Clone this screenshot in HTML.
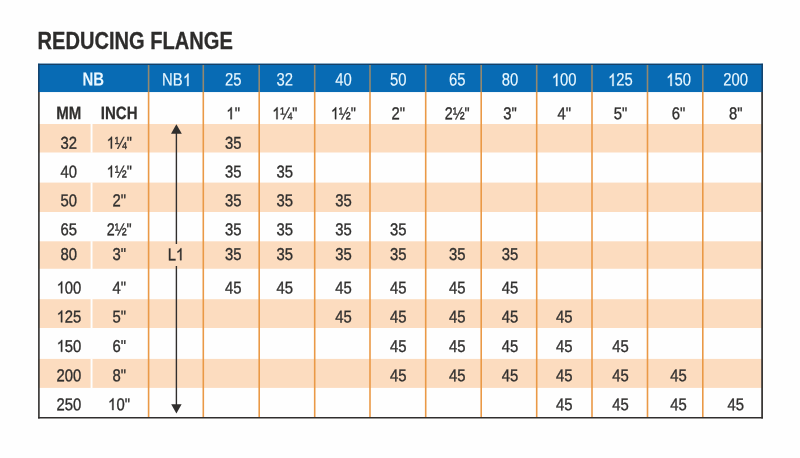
<!DOCTYPE html>
<html><head><meta charset="utf-8"><title>Reducing Flange</title>
<style>
html,body{margin:0;padding:0;background:#fefefe;}
body{width:800px;height:458px;overflow:hidden;position:relative;font-family:"Liberation Sans",sans-serif;}
#wrap{position:absolute;left:0;top:0;width:800px;height:458px;filter:blur(0.45px);}
.a{position:absolute;}
.o{width:0.5562em;height:0.69em;vertical-align:baseline;overflow:visible;fill:currentColor;stroke:currentColor;stroke-width:45;}
.t{position:absolute;width:120px;line-height:20px;text-align:center;white-space:nowrap;transform-origin:50% 50%;color:#302f2e;-webkit-text-stroke:0.35px currentColor;}
</style></head><body><div id="wrap">
<svg class="a" style="left:0;top:0" width="800" height="458" viewBox="0 0 800 458">
<defs><path id="g1" d="M763 0L583 0L583 -1147Q518 -1085 412.5 -1023Q307 -961 223 -930L223 -1104Q374 -1175 487 -1276Q600 -1377 647 -1472L763 -1472Z"/></defs>
<rect x="38.1" y="63.7" width="724.8" height="28.35" fill="#086bb4"/>
<rect x="38.5" y="124.0" width="724" height="28.50" fill="#fcdcbf"/>
<rect x="38.5" y="182.6" width="724" height="29.40" fill="#fcdcbf"/>
<rect x="38.5" y="241.3" width="724" height="27.45" fill="#fcdcbf"/>
<rect x="38.5" y="299.2" width="724" height="28.80" fill="#fcdcbf"/>
<rect x="38.5" y="358.9" width="724" height="29.00" fill="#fcdcbf"/>
<rect x="90.6" y="123.8" width="1.9" height="28.90" fill="#fefefe"/>
<rect x="90.6" y="182.4" width="1.9" height="29.80" fill="#fefefe"/>
<rect x="90.6" y="241.10000000000002" width="1.9" height="27.85" fill="#fefefe"/>
<rect x="90.6" y="299.0" width="1.9" height="29.20" fill="#fefefe"/>
<rect x="90.6" y="358.7" width="1.9" height="29.40" fill="#fefefe"/>
<line x1="148.6" y1="92" x2="148.6" y2="417.5" stroke="#ea9946" stroke-width="1.6"/>
<line x1="148.6" y1="64" x2="148.6" y2="92.1" stroke="#94886e" stroke-width="1.6"/>
<line x1="203.3" y1="92" x2="203.3" y2="417.5" stroke="#ea9946" stroke-width="1.6"/>
<line x1="203.3" y1="64" x2="203.3" y2="92.1" stroke="#94886e" stroke-width="1.6"/>
<line x1="259.2" y1="92" x2="259.2" y2="417.5" stroke="#ea9946" stroke-width="1.6"/>
<line x1="259.2" y1="64" x2="259.2" y2="92.1" stroke="#94886e" stroke-width="1.6"/>
<line x1="314.7" y1="92" x2="314.7" y2="417.5" stroke="#ea9946" stroke-width="1.6"/>
<line x1="314.7" y1="64" x2="314.7" y2="92.1" stroke="#94886e" stroke-width="1.6"/>
<line x1="370.0" y1="92" x2="370.0" y2="417.5" stroke="#ea9946" stroke-width="1.6"/>
<line x1="370.0" y1="64" x2="370.0" y2="92.1" stroke="#94886e" stroke-width="1.6"/>
<line x1="425.7" y1="92" x2="425.7" y2="417.5" stroke="#ea9946" stroke-width="1.6"/>
<line x1="425.7" y1="64" x2="425.7" y2="92.1" stroke="#94886e" stroke-width="1.6"/>
<line x1="481.2" y1="92" x2="481.2" y2="417.5" stroke="#ea9946" stroke-width="1.6"/>
<line x1="481.2" y1="64" x2="481.2" y2="92.1" stroke="#94886e" stroke-width="1.6"/>
<line x1="536.7" y1="92" x2="536.7" y2="417.5" stroke="#ea9946" stroke-width="1.6"/>
<line x1="536.7" y1="64" x2="536.7" y2="92.1" stroke="#94886e" stroke-width="1.6"/>
<line x1="592.0" y1="92" x2="592.0" y2="417.5" stroke="#ea9946" stroke-width="1.6"/>
<line x1="592.0" y1="64" x2="592.0" y2="92.1" stroke="#94886e" stroke-width="1.6"/>
<line x1="647.5" y1="92" x2="647.5" y2="417.5" stroke="#ea9946" stroke-width="1.6"/>
<line x1="647.5" y1="64" x2="647.5" y2="92.1" stroke="#94886e" stroke-width="1.6"/>
<line x1="702.8" y1="92" x2="702.8" y2="417.5" stroke="#ea9946" stroke-width="1.6"/>
<line x1="702.8" y1="64" x2="702.8" y2="92.1" stroke="#94886e" stroke-width="1.6"/>
<line x1="38.1" y1="64.3" x2="762.9" y2="64.3" stroke="#153f66" stroke-width="1.2"/>
<line x1="38.8" y1="63.7" x2="38.8" y2="92" stroke="#153f66" stroke-width="1.4"/>
<line x1="762.2" y1="63.7" x2="762.2" y2="92" stroke="#153f66" stroke-width="1.4"/>
<line x1="38.9" y1="92" x2="38.9" y2="418.4" stroke="#302e2d" stroke-width="1.6"/>
<line x1="762.1" y1="92" x2="762.1" y2="418.4" stroke="#302e2d" stroke-width="1.7"/>
<line x1="38.1" y1="417.8" x2="762.95" y2="417.8" stroke="#302e2d" stroke-width="1.6"/>
<line x1="176.4" y1="131" x2="176.4" y2="244" stroke="#302e2d" stroke-width="1.4"/>
<line x1="176.4" y1="266" x2="176.4" y2="407" stroke="#302e2d" stroke-width="1.4"/>
<polygon points="176.4,124.2 181.8,133.8 171.0,133.8" fill="#302e2d"/>
<polygon points="176.4,413.4 181.6,404.2 171.2,404.2" fill="#302e2d"/>
</svg>
<div class="a" id="title" style="left:38px;top:31px;font-size:23.1px;line-height:20px;font-weight:bold;color:#2d2c2b;-webkit-text-stroke:0.3px #2d2c2b;white-space:nowrap;transform-origin:0 50%;transform:translate(-0.45px,0.35px) scaleX(0.8695) rotate(0.02deg);">REDUCING FLANGE</div>
<div class="t" style="left:33px;top:69px;font-size:19.0px;transform:translate(0.30px,0.40px) scaleX(0.79) rotate(0.03deg);color:#eaf8ff;font-weight:bold;-webkit-text-stroke:0;">NB</div>
<div class="t" style="left:116px;top:69px;font-size:18.0px;transform:translate(0.40px,0.60px) scaleX(0.825) rotate(0.03deg);color:#eaf8ff;-webkit-text-stroke:0.12px #eaf8ff;">NB<svg class="o" viewBox="0 -1472 1139 1472" preserveAspectRatio="none"><use href="#g1"/></svg></div>
<div class="t" style="left:173px;top:69px;font-size:18.0px;transform:translate(0.20px,0.60px) scaleX(0.825) rotate(0.03deg);color:#eaf8ff;-webkit-text-stroke:0.12px #eaf8ff;">25</div>
<div class="t" style="left:224px;top:69px;font-size:18.0px;transform:translate(0.80px,0.60px) scaleX(0.825) rotate(0.03deg);color:#eaf8ff;-webkit-text-stroke:0.12px #eaf8ff;">32</div>
<div class="t" style="left:283px;top:69px;font-size:18.0px;transform:translate(0.40px,0.60px) scaleX(0.825) rotate(0.03deg);color:#eaf8ff;-webkit-text-stroke:0.12px #eaf8ff;">40</div>
<div class="t" style="left:338px;top:69px;font-size:18.0px;transform:translate(0.30px,0.60px) scaleX(0.825) rotate(0.03deg);color:#eaf8ff;-webkit-text-stroke:0.12px #eaf8ff;">50</div>
<div class="t" style="left:397px;top:69px;font-size:18.0px;transform:translate(0.20px,0.60px) scaleX(0.825) rotate(0.03deg);color:#eaf8ff;-webkit-text-stroke:0.12px #eaf8ff;">65</div>
<div class="t" style="left:450px;top:69px;font-size:18.0px;transform:translate(0.10px,0.60px) scaleX(0.825) rotate(0.03deg);color:#eaf8ff;-webkit-text-stroke:0.12px #eaf8ff;">80</div>
<div class="t" style="left:504px;top:69px;font-size:18.0px;transform:translate(0.20px,0.60px) scaleX(0.825) rotate(0.03deg);color:#eaf8ff;-webkit-text-stroke:0.12px #eaf8ff;"><svg class="o" viewBox="0 -1472 1139 1472" preserveAspectRatio="none"><use href="#g1"/></svg>00</div>
<div class="t" style="left:560px;top:69px;font-size:18.0px;transform:translate(0.50px,0.60px) scaleX(0.825) rotate(0.03deg);color:#eaf8ff;-webkit-text-stroke:0.12px #eaf8ff;"><svg class="o" viewBox="0 -1472 1139 1472" preserveAspectRatio="none"><use href="#g1"/></svg>25</div>
<div class="t" style="left:618px;top:69px;font-size:18.0px;transform:translate(0.60px,0.60px) scaleX(0.825) rotate(0.03deg);color:#eaf8ff;-webkit-text-stroke:0.12px #eaf8ff;"><svg class="o" viewBox="0 -1472 1139 1472" preserveAspectRatio="none"><use href="#g1"/></svg>50</div>
<div class="t" style="left:675px;top:69px;font-size:18.0px;transform:translate(0.70px,0.60px) scaleX(0.825) rotate(0.03deg);color:#eaf8ff;-webkit-text-stroke:0.12px #eaf8ff;">200</div>
<div class="t" style="left:8px;top:103px;font-size:17.8px;transform:translate(0.80px,0.00px) scaleX(0.845) rotate(0.03deg);font-weight:bold;-webkit-text-stroke:0.25px currentColor;">MM</div>
<div class="t" style="left:59px;top:103px;font-size:17.8px;transform:translate(0.20px,0.00px) scaleX(0.845) rotate(0.03deg);font-weight:bold;-webkit-text-stroke:0.25px currentColor;">INCH</div>
<div class="t" style="left:173px;top:103px;font-size:17.2px;transform:translate(0.20px,0.30px) scaleX(0.863) rotate(0.03deg);"><svg class="o" viewBox="0 -1472 1139 1472" preserveAspectRatio="none"><use href="#g1"/></svg>"</div>
<div class="t" style="left:224px;top:103px;font-size:17.2px;transform:translate(0.80px,0.30px) scaleX(0.835) rotate(0.03deg);"><svg class="o" viewBox="0 -1472 1139 1472" preserveAspectRatio="none"><use href="#g1"/></svg>¼"</div>
<div class="t" style="left:283px;top:103px;font-size:17.2px;transform:translate(0.40px,0.30px) scaleX(0.835) rotate(0.03deg);"><svg class="o" viewBox="0 -1472 1139 1472" preserveAspectRatio="none"><use href="#g1"/></svg>½"</div>
<div class="t" style="left:338px;top:103px;font-size:17.2px;transform:translate(0.30px,0.30px) scaleX(0.863) rotate(0.03deg);">2"</div>
<div class="t" style="left:397px;top:103px;font-size:17.2px;transform:translate(0.20px,0.30px) scaleX(0.835) rotate(0.03deg);">2½"</div>
<div class="t" style="left:450px;top:103px;font-size:17.2px;transform:translate(0.10px,0.30px) scaleX(0.863) rotate(0.03deg);">3"</div>
<div class="t" style="left:504px;top:103px;font-size:17.2px;transform:translate(0.20px,0.30px) scaleX(0.863) rotate(0.03deg);">4"</div>
<div class="t" style="left:560px;top:103px;font-size:17.2px;transform:translate(0.50px,0.30px) scaleX(0.863) rotate(0.03deg);">5"</div>
<div class="t" style="left:618px;top:103px;font-size:17.2px;transform:translate(0.60px,0.30px) scaleX(0.863) rotate(0.03deg);">6"</div>
<div class="t" style="left:675px;top:103px;font-size:17.2px;transform:translate(0.70px,0.30px) scaleX(0.863) rotate(0.03deg);">8"</div>
<div class="t" style="left:8px;top:132px;font-size:17.2px;transform:translate(0.80px,0.70px) scaleX(0.863) rotate(0.03deg);">32</div>
<div class="t" style="left:59px;top:132px;font-size:17.2px;transform:translate(0.20px,0.70px) scaleX(0.835) rotate(0.03deg);"><svg class="o" viewBox="0 -1472 1139 1472" preserveAspectRatio="none"><use href="#g1"/></svg>¼"</div>
<div class="t" style="left:173px;top:132px;font-size:17.2px;transform:translate(0.20px,0.70px) scaleX(0.863) rotate(0.03deg);">35</div>
<div class="t" style="left:8px;top:161px;font-size:17.2px;transform:translate(0.80px,0.40px) scaleX(0.863) rotate(0.03deg);">40</div>
<div class="t" style="left:59px;top:161px;font-size:17.2px;transform:translate(0.20px,0.40px) scaleX(0.835) rotate(0.03deg);"><svg class="o" viewBox="0 -1472 1139 1472" preserveAspectRatio="none"><use href="#g1"/></svg>½"</div>
<div class="t" style="left:173px;top:161px;font-size:17.2px;transform:translate(0.20px,0.40px) scaleX(0.863) rotate(0.03deg);">35</div>
<div class="t" style="left:224px;top:161px;font-size:17.2px;transform:translate(0.80px,0.40px) scaleX(0.863) rotate(0.03deg);">35</div>
<div class="t" style="left:8px;top:190px;font-size:17.2px;transform:translate(0.80px,0.30px) scaleX(0.863) rotate(0.03deg);">50</div>
<div class="t" style="left:59px;top:190px;font-size:17.2px;transform:translate(0.20px,0.30px) scaleX(0.863) rotate(0.03deg);">2"</div>
<div class="t" style="left:173px;top:190px;font-size:17.2px;transform:translate(0.20px,0.30px) scaleX(0.863) rotate(0.03deg);">35</div>
<div class="t" style="left:224px;top:190px;font-size:17.2px;transform:translate(0.80px,0.30px) scaleX(0.863) rotate(0.03deg);">35</div>
<div class="t" style="left:283px;top:190px;font-size:17.2px;transform:translate(0.40px,0.30px) scaleX(0.863) rotate(0.03deg);">35</div>
<div class="t" style="left:8px;top:219px;font-size:17.2px;transform:translate(0.80px,0.30px) scaleX(0.863) rotate(0.03deg);">65</div>
<div class="t" style="left:59px;top:219px;font-size:17.2px;transform:translate(0.20px,0.30px) scaleX(0.835) rotate(0.03deg);">2½"</div>
<div class="t" style="left:173px;top:219px;font-size:17.2px;transform:translate(0.20px,0.30px) scaleX(0.863) rotate(0.03deg);">35</div>
<div class="t" style="left:224px;top:219px;font-size:17.2px;transform:translate(0.80px,0.30px) scaleX(0.863) rotate(0.03deg);">35</div>
<div class="t" style="left:283px;top:219px;font-size:17.2px;transform:translate(0.40px,0.30px) scaleX(0.863) rotate(0.03deg);">35</div>
<div class="t" style="left:338px;top:219px;font-size:17.2px;transform:translate(0.30px,0.30px) scaleX(0.863) rotate(0.03deg);">35</div>
<div class="t" style="left:8px;top:243px;font-size:17.2px;transform:translate(0.80px,0.90px) scaleX(0.863) rotate(0.03deg);">80</div>
<div class="t" style="left:59px;top:243px;font-size:17.2px;transform:translate(0.20px,0.90px) scaleX(0.863) rotate(0.03deg);">3"</div>
<div class="t" style="left:173px;top:243px;font-size:17.2px;transform:translate(0.20px,0.90px) scaleX(0.863) rotate(0.03deg);">35</div>
<div class="t" style="left:224px;top:243px;font-size:17.2px;transform:translate(0.80px,0.90px) scaleX(0.863) rotate(0.03deg);">35</div>
<div class="t" style="left:283px;top:243px;font-size:17.2px;transform:translate(0.40px,0.90px) scaleX(0.863) rotate(0.03deg);">35</div>
<div class="t" style="left:338px;top:243px;font-size:17.2px;transform:translate(0.30px,0.90px) scaleX(0.863) rotate(0.03deg);">35</div>
<div class="t" style="left:397px;top:243px;font-size:17.2px;transform:translate(0.20px,0.90px) scaleX(0.863) rotate(0.03deg);">35</div>
<div class="t" style="left:450px;top:243px;font-size:17.2px;transform:translate(0.10px,0.90px) scaleX(0.863) rotate(0.03deg);">35</div>
<div class="t" style="left:8px;top:277px;font-size:17.2px;transform:translate(0.80px,0.40px) scaleX(0.863) rotate(0.03deg);"><svg class="o" viewBox="0 -1472 1139 1472" preserveAspectRatio="none"><use href="#g1"/></svg>00</div>
<div class="t" style="left:59px;top:277px;font-size:17.2px;transform:translate(0.20px,0.40px) scaleX(0.863) rotate(0.03deg);">4"</div>
<div class="t" style="left:173px;top:277px;font-size:17.2px;transform:translate(0.20px,0.40px) scaleX(0.863) rotate(0.03deg);">45</div>
<div class="t" style="left:224px;top:277px;font-size:17.2px;transform:translate(0.80px,0.40px) scaleX(0.863) rotate(0.03deg);">45</div>
<div class="t" style="left:283px;top:277px;font-size:17.2px;transform:translate(0.40px,0.40px) scaleX(0.863) rotate(0.03deg);">45</div>
<div class="t" style="left:338px;top:277px;font-size:17.2px;transform:translate(0.30px,0.40px) scaleX(0.863) rotate(0.03deg);">45</div>
<div class="t" style="left:397px;top:277px;font-size:17.2px;transform:translate(0.20px,0.40px) scaleX(0.863) rotate(0.03deg);">45</div>
<div class="t" style="left:450px;top:277px;font-size:17.2px;transform:translate(0.10px,0.40px) scaleX(0.863) rotate(0.03deg);">45</div>
<div class="t" style="left:8px;top:306px;font-size:17.2px;transform:translate(0.80px,0.40px) scaleX(0.863) rotate(0.03deg);"><svg class="o" viewBox="0 -1472 1139 1472" preserveAspectRatio="none"><use href="#g1"/></svg>25</div>
<div class="t" style="left:59px;top:306px;font-size:17.2px;transform:translate(0.20px,0.40px) scaleX(0.863) rotate(0.03deg);">5"</div>
<div class="t" style="left:283px;top:306px;font-size:17.2px;transform:translate(0.40px,0.40px) scaleX(0.863) rotate(0.03deg);">45</div>
<div class="t" style="left:338px;top:306px;font-size:17.2px;transform:translate(0.30px,0.40px) scaleX(0.863) rotate(0.03deg);">45</div>
<div class="t" style="left:397px;top:306px;font-size:17.2px;transform:translate(0.20px,0.40px) scaleX(0.863) rotate(0.03deg);">45</div>
<div class="t" style="left:450px;top:306px;font-size:17.2px;transform:translate(0.10px,0.40px) scaleX(0.863) rotate(0.03deg);">45</div>
<div class="t" style="left:504px;top:306px;font-size:17.2px;transform:translate(0.20px,0.40px) scaleX(0.863) rotate(0.03deg);">45</div>
<div class="t" style="left:8px;top:335px;font-size:17.2px;transform:translate(0.80px,0.90px) scaleX(0.863) rotate(0.03deg);"><svg class="o" viewBox="0 -1472 1139 1472" preserveAspectRatio="none"><use href="#g1"/></svg>50</div>
<div class="t" style="left:59px;top:335px;font-size:17.2px;transform:translate(0.20px,0.90px) scaleX(0.863) rotate(0.03deg);">6"</div>
<div class="t" style="left:338px;top:335px;font-size:17.2px;transform:translate(0.30px,0.90px) scaleX(0.863) rotate(0.03deg);">45</div>
<div class="t" style="left:397px;top:335px;font-size:17.2px;transform:translate(0.20px,0.90px) scaleX(0.863) rotate(0.03deg);">45</div>
<div class="t" style="left:450px;top:335px;font-size:17.2px;transform:translate(0.10px,0.90px) scaleX(0.863) rotate(0.03deg);">45</div>
<div class="t" style="left:504px;top:335px;font-size:17.2px;transform:translate(0.20px,0.90px) scaleX(0.863) rotate(0.03deg);">45</div>
<div class="t" style="left:560px;top:335px;font-size:17.2px;transform:translate(0.50px,0.90px) scaleX(0.863) rotate(0.03deg);">45</div>
<div class="t" style="left:8px;top:365px;font-size:17.2px;transform:translate(0.80px,0.20px) scaleX(0.863) rotate(0.03deg);">200</div>
<div class="t" style="left:59px;top:365px;font-size:17.2px;transform:translate(0.20px,0.20px) scaleX(0.863) rotate(0.03deg);">8"</div>
<div class="t" style="left:338px;top:365px;font-size:17.2px;transform:translate(0.30px,0.20px) scaleX(0.863) rotate(0.03deg);">45</div>
<div class="t" style="left:397px;top:365px;font-size:17.2px;transform:translate(0.20px,0.20px) scaleX(0.863) rotate(0.03deg);">45</div>
<div class="t" style="left:450px;top:365px;font-size:17.2px;transform:translate(0.10px,0.20px) scaleX(0.863) rotate(0.03deg);">45</div>
<div class="t" style="left:504px;top:365px;font-size:17.2px;transform:translate(0.20px,0.20px) scaleX(0.863) rotate(0.03deg);">45</div>
<div class="t" style="left:560px;top:365px;font-size:17.2px;transform:translate(0.50px,0.20px) scaleX(0.863) rotate(0.03deg);">45</div>
<div class="t" style="left:618px;top:365px;font-size:17.2px;transform:translate(0.60px,0.20px) scaleX(0.863) rotate(0.03deg);">45</div>
<div class="t" style="left:8px;top:394px;font-size:17.2px;transform:translate(0.80px,0.20px) scaleX(0.863) rotate(0.03deg);">250</div>
<div class="t" style="left:59px;top:394px;font-size:17.2px;transform:translate(0.20px,0.20px) scaleX(0.863) rotate(0.03deg);"><svg class="o" viewBox="0 -1472 1139 1472" preserveAspectRatio="none"><use href="#g1"/></svg>0"</div>
<div class="t" style="left:504px;top:394px;font-size:17.2px;transform:translate(0.20px,0.20px) scaleX(0.863) rotate(0.03deg);">45</div>
<div class="t" style="left:560px;top:394px;font-size:17.2px;transform:translate(0.50px,0.20px) scaleX(0.863) rotate(0.03deg);">45</div>
<div class="t" style="left:618px;top:394px;font-size:17.2px;transform:translate(0.60px,0.20px) scaleX(0.863) rotate(0.03deg);">45</div>
<div class="t" style="left:675px;top:394px;font-size:17.2px;transform:translate(0.70px,0.20px) scaleX(0.863) rotate(0.03deg);">45</div>
<div class="t" style="left:115px;top:244px;font-size:17.2px;transform:translate(0.90px,0.30px) scaleX(0.863) rotate(0.03deg);">L<svg class="o" viewBox="0 -1472 1139 1472" preserveAspectRatio="none"><use href="#g1"/></svg></div>
</div></body></html>
